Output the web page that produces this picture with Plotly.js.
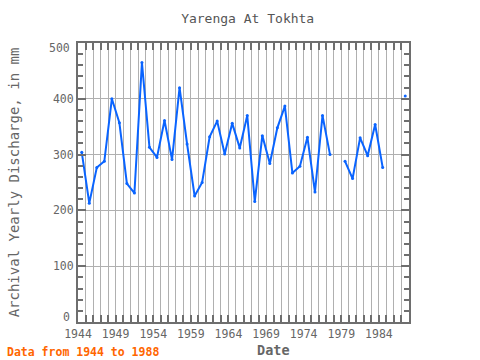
<!DOCTYPE html>
<html>
<head>
<meta charset="utf-8">
<script src="https://cdn.plot.ly/plotly-3.0.1.min.js"></script>
<style>html,body{margin:0;padding:0;background:#fff;}#chart{width:480px;height:360px;}</style>
</head>
<body>
<div id="chart"></div>
<script>
var years = [1944,1945,1946,1947,1948,1949,1950,1951,1952,1953,1954,1955,1956,1957,1958,1959,1960,1961,1962,1963,1964,1965,1966,1967,1968,1969,1970,1971,1972,1973,1974,1975,1976,1977,1978,1979,1980,1981,1982,1983,1984,1985,1986,1987];
var discharge = [304,213,277,288,400,357,248,231,465,313,295,361,291,420,319,226,250,332,360,301,356,312,370,216,334,284,348,387,267,279,331,233,370,300,null,288,257,330,298,354,277,null,null,405];
var yInnerTicks = [100,200,300,400];
var yInnerLabels = ['100','200','300','400'];
var yEndTicks = [0,500];
var yEndLabels = ['0','500'];
var xPos = years.map(function(y){ return y + 0.5; });

var fontFam = '"DejaVu Sans Mono", monospace';
var frame = '#6e6e6e';
var grid = '#b0b0b0';
var tickTxt = '#666';

var trace = {
  x: xPos, y: discharge, type: 'scatter', mode: 'lines+markers',
  line: {color: '#0a64ff', width: 2},
  marker: {color: '#0a64ff', size: 3},
  connectgaps: false, hoverinfo: 'none'
};

var annotations = [{
  text: '<b>Data from 1944 to 1988</b>', xref: 'paper', yref: 'paper',
  x: -0.2205, y: -0.108, xanchor: 'left', yanchor: 'middle', showarrow: false,
  font: {family: fontFam, size: 11.5, color: '#ff6600'}
}, {
  text: '<b>Date</b>', xref: 'paper', yref: 'paper',
  x: 0.592, y: -0.099, xanchor: 'center', yanchor: 'middle', showarrow: false,
  font: {family: fontFam, size: 13.5, color: tickTxt}
}];
yEndTicks.forEach(function(v, i){
  annotations.push({
    text: yEndLabels[i], xref: 'paper', yref: 'y', x: 0, y: v,
    xanchor: 'right', yanchor: 'middle', xshift: -6, yshift: (v === 0 ? 5 : -5),
    showarrow: false, font: {family: fontFam, size: 11.5, color: tickTxt}
  });
});

var layout = {
  width: 480, height: 360,
  margin: {l: 78, r: 71, t: 43, b: 38},
  paper_bgcolor: '#fff', plot_bgcolor: '#fff',
  showlegend: false,
  title: {text: 'Yarenga At Tokhta', x: 0.516, xanchor: 'center', y: 0.95, yanchor: 'middle',
          font: {family: fontFam, size: 13, color: '#555'}},
  xaxis: {
    range: [1944, 1988], tickmode: 'linear', tick0: 1944, dtick: 5,
    ticks: 'inside', ticklen: 7, tickwidth: 2, tickcolor: frame,
    showline: true, linecolor: frame, linewidth: 2, mirror: 'allticks',
    showgrid: true, gridcolor: grid, gridwidth: 1, zeroline: false,
    tickfont: {family: fontFam, size: 11.5, color: tickTxt},
    minor: {dtick: 1, tick0: 1944, ticks: 'inside', ticklen: 7, tickwidth: 2, tickcolor: frame, showgrid: true, gridcolor: grid, gridwidth: 1}
  },
  yaxis: {
    range: [0, 500], tickmode: 'array', tickvals: yInnerTicks, ticktext: yInnerLabels,
    ticks: 'inside', ticklen: 8, tickwidth: 2, tickcolor: frame,
    showline: true, linecolor: frame, linewidth: 2, mirror: 'allticks',
    showgrid: true, gridcolor: grid, gridwidth: 1, zeroline: false,
    tickfont: {family: fontFam, size: 11.5, color: tickTxt},
    minor: {tickmode: 'linear', tick0: 0, dtick: 20, ticks: 'inside', ticklen: 5, tickwidth: 2, tickcolor: frame, showgrid: false},
    title: {text: 'Archival Yearly Discharge, in mm', standoff: 30, font: {family: fontFam, size: 14, color: tickTxt}}
  },
  annotations: annotations
};

Plotly.newPlot('chart', [trace], layout, {staticPlot: true, displayModeBar: false});
</script>
</body>
</html>
